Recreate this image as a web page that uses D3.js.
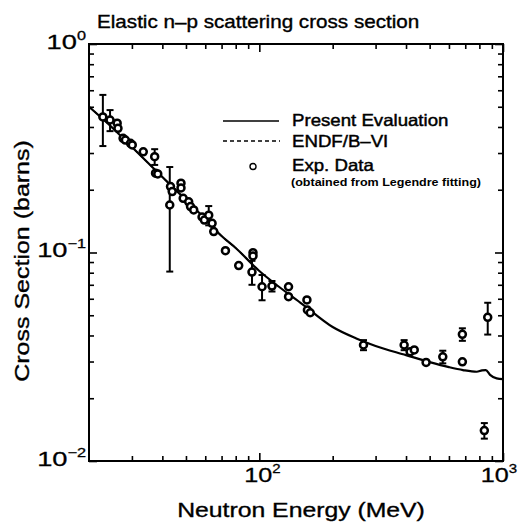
<!DOCTYPE html>
<html>
<head>
<meta charset="utf-8">
<script src="https://cdn.jsdelivr.net/npm/d3@7/dist/d3.min.js"></script>
<style>
  html, body { margin: 0; padding: 0; background: #fff; }
  svg { display: block; font-family: "Liberation Sans", Arial, Helvetica, sans-serif; }
</style>
</head>
<body>
<svg id="chart" width="528" height="529"></svg>
<script>
// Present evaluation of the elastic n-p cross section (MeV, barns)
const evalEnergy = [20, 25, 30, 40, 50, 60, 70, 80, 100, 120, 150, 200, 250, 300, 400, 500, 600, 685, 780, 820, 850, 885, 942, 1000];
const evalSigma  = [0.500, 0.3955, 0.3206, 0.2302, 0.1786, 0.1448, 0.1200, 0.1051, 0.0815, 0.0687, 0.0566, 0.0439, 0.0387, 0.0356, 0.0322, 0.0298, 0.0282, 0.0273, 0.0268, 0.0272, 0.0273, 0.0259, 0.0249, 0.0247];

// ENDF/B-VI evaluation (ends at 100 MeV)
const endfEnergy = [20, 25, 30, 40, 50, 60, 70, 80, 100];
const endfSigma  = [0.500, 0.3955, 0.3206, 0.2302, 0.1786, 0.1448, 0.1200, 0.1051, 0.0815];

// Experimental data points with absolute uncertainties (0 = no bar drawn)
const expEnergy = [22.8, 24.4, 26.1, 26.3, 27.6, 28.2, 29.6, 30.1, 33.4, 37.2, 37.5, 38.3, 42.9, 43.2, 43.9, 47.7, 47.7, 48.7, 51.3, 52.2, 53.8, 58.2, 59.5, 62.0, 64.0, 65.0, 72.6, 82.3, 94.2, 94.2, 93.3, 102.6, 112.7, 131.8, 131.8, 156.8, 157.5, 161.8, 267.6, 392.9, 415.7, 432.3, 483.5, 566.1, 681.2, 681.2, 865.6, 838.3];
const expSigma  = [0.447, 0.432, 0.417, 0.394, 0.353, 0.346, 0.334, 0.328, 0.304, 0.288, 0.240, 0.238, 0.169, 0.207, 0.196, 0.215, 0.204, 0.182, 0.175, 0.166, 0.160, 0.148, 0.143, 0.151, 0.138, 0.126, 0.102, 0.0866, 0.0998, 0.0962, 0.0806, 0.0685, 0.069, 0.0685, 0.0614, 0.0592, 0.053, 0.0514, 0.036, 0.036, 0.0334, 0.0341, 0.0297, 0.0316, 0.0405, 0.0299, 0.0489, 0.0140];
const expError  = [0.123, 0.05, 0, 0, 0, 0, 0, 0, 0, 0.025, 0, 0, 0.088, 0, 0, 0, 0, 0, 0, 0, 0, 0, 0, 0.016, 0, 0, 0, 0, 0, 0, 0.0106, 0.0095, 0.004, 0, 0, 0, 0, 0, 0.002, 0.002, 0, 0, 0, 0.0022, 0.0028, 0, 0.0085, 0.0012];

// Axis ticks and labels
const xMajor = [100, 1000];
const xMajorExp = ["2", "3"];
const yMajor = [1, 0.1, 0.01];
const yMajorExp = ["0", "\u22121", "\u22122"];

const legendLabels = ["Present Evaluation", "ENDF/B\u2013VI", "Exp. Data"];
const legendNote = "(obtained from Legendre fitting)";
const titleText = "Elastic n\u2013p scattering cross section";
const xTitle = "Neutron Energy (MeV)";
const yTitle = "Cross Section (barns)";

const W = 528, H = 529;
const margin = { top: 44, right: 25, bottom: 68, left: 89 };
const svg = d3.select("#chart");

const x = d3.scaleLog().domain([20, 1000]).range([margin.left, W - margin.right]);
const y = d3.scaleLog().domain([0.01, 1]).range([H - margin.bottom, margin.top]);

// minor tick values: 2..9 within each decade, inside the domain
function minorTicks(scale) {
  const [a, b] = scale.domain().map(Math.log10);
  const out = [];
  for (let d = Math.floor(a); d < Math.ceil(b); d++) {
    for (let m = 2; m <= 9; m++) {
      const v = m * Math.pow(10, d);
      if (v > scale.domain()[0] && v < scale.domain()[1]) out.push(v);
    }
  }
  return out;
}

// text stretched along its baseline
function addText(g, str, px, py, size, sx, opts = {}) {
  const t = g.append("text")
    .attr("transform", `translate(${px},${py}) scale(${sx},1)`)
    .attr("font-size", size)
    .attr("fill", "#000")
    .attr("text-anchor", opts.anchor || "start")
    .attr("font-weight", opts.weight || "normal")
    .text(str);
  if (opts.stroke) t.attr("stroke", "#000").attr("stroke-width", opts.stroke);
  return t;
}

const plot = svg.append("g");

// axes: ticks point inward on all four sides
const bottomY = H - margin.bottom, topY = margin.top, leftX = margin.left, rightX = W - margin.right;

function drawAxis(axisGen, transform) {
  const g = plot.append("g").attr("transform", transform).call(axisGen);
  g.select(".domain").remove();
  g.selectAll("text").remove();
  g.selectAll("line").attr("stroke", "#000").attr("stroke-width", 1.6);
  return g;
}

drawAxis(d3.axisBottom(x).tickValues(xMajor).tickSize(-8), `translate(0,${bottomY})`);
drawAxis(d3.axisBottom(x).tickValues(minorTicks(x)).tickSize(-5), `translate(0,${bottomY})`);
drawAxis(d3.axisTop(x).tickValues(xMajor).tickSize(-8), `translate(0,${topY})`);
drawAxis(d3.axisTop(x).tickValues(minorTicks(x)).tickSize(-5), `translate(0,${topY})`);
drawAxis(d3.axisLeft(y).tickValues(yMajor).tickSize(-8), `translate(${leftX},0)`);
drawAxis(d3.axisLeft(y).tickValues(minorTicks(y)).tickSize(-5), `translate(${leftX},0)`);
drawAxis(d3.axisRight(y).tickValues(yMajor).tickSize(-8), `translate(${rightX},0)`);
drawAxis(d3.axisRight(y).tickValues(minorTicks(y)).tickSize(-5), `translate(${rightX},0)`);

// frame
plot.append("rect")
  .attr("x", leftX).attr("y", topY)
  .attr("width", rightX - leftX).attr("height", bottomY - topY)
  .attr("fill", "none").attr("stroke", "#000").attr("stroke-width", 2);

// tick labels
const labels = svg.append("g");
yMajor.forEach((v, i) => {
  const t = labels.append("text")
    .attr("transform", `translate(${leftX - 3},${y(v) + 4.5}) scale(1.3,1)`)
    .attr("text-anchor", "end").attr("font-size", 21).attr("fill", "#000")
    .attr("stroke", "#000").attr("stroke-width", 0.3);
  t.append("tspan").text("10");
  t.append("tspan").attr("font-size", 12.5).attr("dy", -9).text(yMajorExp[i]);
});
xMajor.forEach((v, i) => {
  const shift = i === xMajor.length - 1 ? -4 : 3;
  const t = labels.append("text")
    .attr("transform", `translate(${x(v) + shift},${bottomY + 21}) scale(1.2,1)`)
    .attr("text-anchor", "middle").attr("font-size", 21).attr("fill", "#000")
    .attr("stroke", "#000").attr("stroke-width", 0.3);
  t.append("tspan").text("10");
  t.append("tspan").attr("font-size", 12.5).attr("dy", -9).text(xMajorExp[i]);
});

// titles
addText(svg, titleText, 97, 28, 17.5, 1.18, { stroke: 0.35 });
addText(svg, xTitle, 301, 517, 21, 1.18, { anchor: "middle", stroke: 0.35 });
svg.append("text")
  .attr("transform", `translate(29,261) rotate(-90) scale(1.19,1)`)
  .attr("text-anchor", "middle").attr("font-size", 21).attr("fill", "#000")
  .attr("stroke", "#000").attr("stroke-width", 0.35)
  .text(yTitle);

// curves
const line = d3.line().x(d => x(d[0])).y(d => y(d[1])).curve(d3.curveMonotoneX);
const data = svg.append("g");
data.append("path")
  .datum(endfEnergy.map((e, i) => [e, endfSigma[i]]))
  .attr("d", line).attr("fill", "none").attr("stroke", "#000")
  .attr("stroke-width", 1.4).attr("stroke-dasharray", "4,3");
data.append("path")
  .datum(evalEnergy.map((e, i) => [e, evalSigma[i]]))
  .attr("d", line).attr("fill", "none").attr("stroke", "#000")
  .attr("stroke-width", 2.2);

// experimental points
const pts = expEnergy.map((e, i) => ({ e, s: expSigma[i], err: expError[i] }));
const bars = data.append("g").attr("stroke", "#000").attr("stroke-width", 2);
pts.filter(d => d.err > 0).forEach(d => {
  const cx = x(d.e), y0 = y(d.s + d.err), y1 = y(d.s - d.err);
  bars.append("line").attr("x1", cx).attr("x2", cx).attr("y1", y0).attr("y2", y1);
  bars.append("line").attr("x1", cx - 3.5).attr("x2", cx + 3.5).attr("y1", y0).attr("y2", y0);
  bars.append("line").attr("x1", cx - 3.5).attr("x2", cx + 3.5).attr("y1", y1).attr("y2", y1);
});
data.append("g").selectAll("circle").data(pts).join("circle")
  .attr("cx", d => x(d.e)).attr("cy", d => y(d.s)).attr("r", 3.5)
  .attr("fill", "#fff").attr("stroke", "#000").attr("stroke-width", 2.5);

// legend
const lg = svg.append("g");
lg.append("line").attr("x1", 223).attr("x2", 279).attr("y1", 121).attr("y2", 121)
  .attr("stroke", "#000").attr("stroke-width", 1.6);
lg.append("line").attr("x1", 223).attr("x2", 280).attr("y1", 141).attr("y2", 141)
  .attr("stroke", "#000").attr("stroke-width", 1.4).attr("stroke-dasharray", "4,3");
lg.append("circle").attr("cx", 253).attr("cy", 166.5).attr("r", 3)
  .attr("fill", "none").attr("stroke", "#000").attr("stroke-width", 1.4);
addText(lg, legendLabels[0], 292, 126, 16.5, 1.13, { stroke: 0.45 });
addText(lg, legendLabels[1], 292, 146.5, 16.5, 1.13, { stroke: 0.45 });
addText(lg, legendLabels[2], 292, 170.5, 16.5, 1.13, { stroke: 0.45 });
addText(lg, legendNote, 291, 186, 11, 1.14, { weight: "bold" });
</script>
</body>
</html>
